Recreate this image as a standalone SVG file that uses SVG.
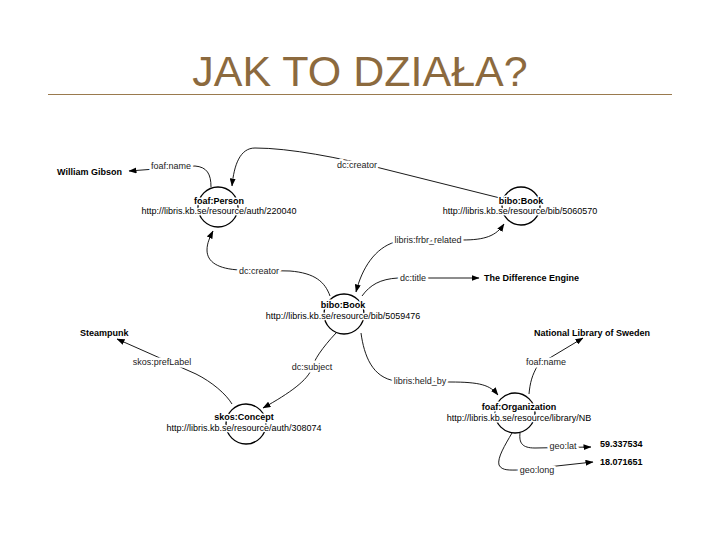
<svg xmlns="http://www.w3.org/2000/svg" width="720" height="540" viewBox="0 0 720 540">
<style>
.title{font-family:"Liberation Sans",Arial,sans-serif;font-size:43px;fill:#8C6A3E}
.n{font-family:"Liberation Sans",Arial,sans-serif;font-size:9px;font-weight:bold;fill:#000}
.u{font-family:"Liberation Sans",Arial,sans-serif;font-size:9px;fill:#000}
.halo{paint-order:stroke;stroke:#fff;stroke-width:3px;stroke-linejoin:round}
.e{font-family:"Liberation Sans",Arial,sans-serif;font-size:9px;fill:#222;text-anchor:middle;paint-order:stroke;stroke:#fff;stroke-width:5px;stroke-linejoin:round}
.c{fill:none;stroke:#000;stroke-width:1.3}
.l{fill:none;stroke:#000;stroke-width:0.9}
</style>
<defs>
<marker id="ah" markerWidth="8" markerHeight="6" refX="7.5" refY="3" orient="auto-start-reverse" markerUnits="userSpaceOnUse">
<path d="M0,0 L8,3 L0,6 Z" fill="#000"/>
</marker>
</defs>
<rect width="720" height="540" fill="#fff"/>
<text class="title" x="360" y="86" text-anchor="middle">JAK TO DZIAŁA?</text>
<line x1="48" y1="94.5" x2="672" y2="94.5" stroke="#9A7A4E" stroke-width="1"/>

<g id="connectors">
<path class="l" d="M211,187 C211,174 207,167 195,166 L129,171" marker-end="url(#ah)"/>
<path class="l" d="M500,198 L380,168 C340,158 290,148 255,148 C240,148 234,165 232,186" marker-end="url(#ah)"/>
<path class="l" d="M356,292 C362,268 375,248 395,242 L462,240 C485,240 496,236 504,224" marker-start="url(#ah)" marker-end="url(#ah)"/>
<path class="l" d="M330,296 C325,282 315,273 290,271 L240,270 C218,269 207,262 207,250 C207,243 210,237 213,231" marker-end="url(#ah)"/>
<path class="l" d="M362,296 C370,285 380,279 398,278 L479,278" marker-end="url(#ah)"/>
<path class="l" d="M232,404 C226,394 212,382 196,374 L117,339" marker-end="url(#ah)"/>
<path class="l" d="M336,333 C322,348 314,360 312,368 C308,380 290,393 263,408" marker-end="url(#ah)"/>
<path class="l" d="M361,333 C364,355 372,378 396,381 L450,382 C480,382 490,385 498,395" marker-end="url(#ah)"/>
<path class="l" d="M529,394 C530,383 532,375 538,365 L583,338" marker-end="url(#ah)"/>
<path class="l" d="M520,433 C519,443 522,448 535,448 L591,447" marker-end="url(#ah)"/>
<path class="l" d="M512,433 C505,445 497,458 499,465 C502,471 510,470 520,470 L593,462" marker-end="url(#ah)"/>
<text class="e" x="171" y="169">foaf:name</text>
<text class="e" x="357" y="168">dc:creator</text>
<text class="e" x="428" y="243">libris:frbr_related</text>
<text class="e" x="259" y="274">dc:creator</text>
<text class="e" x="413" y="281">dc:title</text>
<text class="e" x="162" y="365">skos:prefLabel</text>
<text class="e" x="312" y="370">dc:subject</text>
<text class="e" x="420" y="384">libris:held_by</text>
<text class="e" x="546" y="365">foaf:name</text>
<text class="e" x="563" y="449">geo:lat</text>
<text class="e" x="537" y="473">geo:long</text>
</g>

<g id="person">
<circle class="c" cx="218" cy="207" r="20"/>
<text class="n halo" x="219" y="204" text-anchor="middle">foaf:Person</text>
<text class="u halo" x="219" y="214" text-anchor="middle">http://libris.kb.se/resource/auth/220040</text>
</g>
<g id="book2">
<circle class="c" cx="521" cy="206" r="19"/>
<text class="n halo" x="521" y="204" text-anchor="middle">bibo:Book</text>
<text class="u halo" x="520" y="214" text-anchor="middle">http://libris.kb.se/resource/bib/5060570</text>
</g>
<g id="book1">
<circle class="c" cx="344" cy="314" r="20"/>
<text class="n halo" x="343" y="308" text-anchor="middle">bibo:Book</text>
<text class="u halo" x="343" y="319" text-anchor="middle">http://libris.kb.se/resource/bib/5059476</text>
</g>
<g id="concept">
<circle class="c" cx="246" cy="424" r="20"/>
<text class="n halo" x="244" y="420" text-anchor="middle">skos:Concept</text>
<text class="u halo" x="244" y="431" text-anchor="middle">http://libris.kb.se/resource/auth/308074</text>
</g>
<g id="org">
<circle class="c" cx="515" cy="413" r="20"/>
<text class="n halo" x="519" y="410" text-anchor="middle">foaf:Organization</text>
<text class="u halo" x="519" y="421" text-anchor="middle">http://libris.kb.se/resource/library/NB</text>
</g>
<g id="lit-gibson"><text class="n" x="57" y="175">William Gibson</text></g>
<g id="lit-engine"><text class="n" x="484" y="281">The Difference Engine</text></g>
<g id="lit-steampunk"><text class="n" x="80" y="336">Steampunk</text></g>
<g id="lit-nls"><text class="n" x="534" y="336">National Library of Sweden</text></g>
<g id="lit-lat"><text class="n" x="600" y="447">59.337534</text></g>
<g id="lit-long"><text class="n" x="600" y="465">18.071651</text></g>
</svg>
